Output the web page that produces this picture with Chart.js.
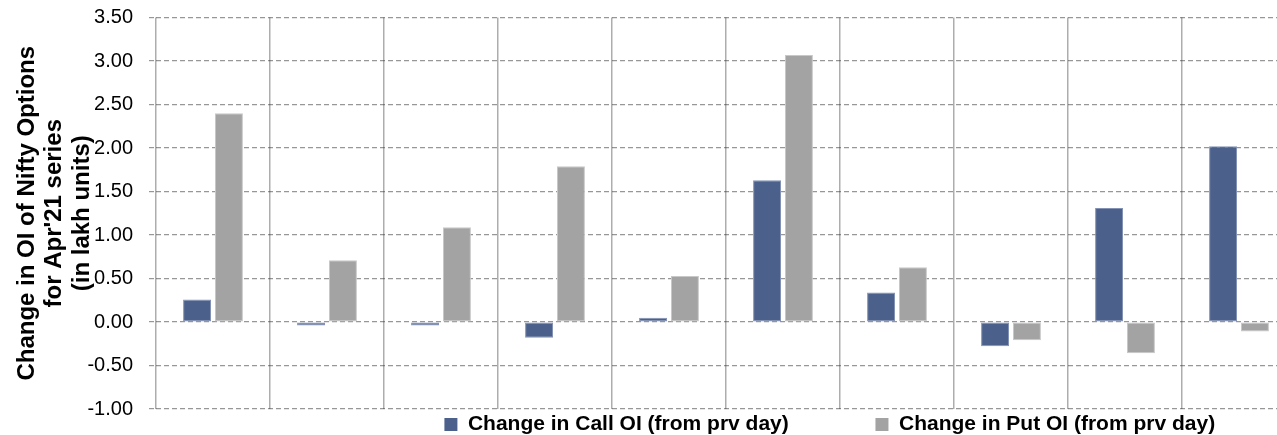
<!DOCTYPE html>
<html>
<head>
<meta charset="utf-8">
<script src="https://cdn.jsdelivr.net/npm/chart.js@4/dist/chart.umd.min.js"></script>
<style>
  html, body { margin: 0; padding: 0; background: #ffffff; overflow: hidden; }
  #wrap { position: relative; width: 1300px; height: 435px; }
</style>
</head>
<body>
<div id="wrap"><canvas id="oiChart"></canvas></div>
<script>
// Trading sessions of the Apr'21 series (axis labels are not shown)
const sessions = ['1', '2', '3', '4', '5', '6', '7', '8', '9', '10'];

// Day-on-day change in open interest, lakh units
const callOiChange = [0.26, -0.04, -0.04, -0.18, 0.05, 1.63, 0.34, -0.28, 1.31, 2.02];
const putOiChange  = [2.40, 0.71, 1.09, 1.79, 0.53, 3.07, 0.63, -0.21, -0.36, -0.11];

// Value axis ticks
const yTickValues = [-1.00, -0.50, 0.00, 0.50, 1.00, 1.50, 2.00, 2.50, 3.00, 3.50];

const seriesNames = ['Change in Call OI (from prv day)', 'Change in Put OI (from prv day)'];
const axisTitle = ['Change in OI of Nifty Options', "for Apr'21 series", '(in lakh units)'];

const FONT = "'Liberation Sans', Arial, Helvetica, sans-serif";
const legendGaps = [14, 13];
const GRID_DASH = 'rgba(55,55,55,0.52)';

new Chart(document.getElementById('oiChart'), {
  type: 'bar',
  data: {
    labels: sessions,
    datasets: [
      {
        label: seriesNames[0],
        data: callOiChange,
        backgroundColor: '#4b618b',
        borderColor: '#8392b4',
        borderWidth: 1,
        borderSkipped: false
      },
      {
        label: seriesNames[1],
        data: putOiChange,
        backgroundColor: '#a3a3a3',
        borderColor: '#c8c8c8',
        borderWidth: 1,
        borderSkipped: false
      }
    ]
  },
  options: {
    responsive: true,
    maintainAspectRatio: false,
    animation: false,
    layout: { padding: { top: 17.5, right: 4, left: 0, bottom: 0 } },
    datasets: {
      bar: { barPercentage: 0.875, categoryPercentage: 0.56 }
    },
    scales: {
      x: {
        offset: true,
        grid: {
          display: true,
          offset: true,
          color: '#adadad',
          lineWidth: 1.5,
          drawTicks: false
        },
        border: { display: false },
        ticks: { display: false }
      },
      y: {
        z: 1,
        min: yTickValues[0],
        max: yTickValues[yTickValues.length - 1],
        afterBuildTicks: (scale) => {
          scale.ticks = yTickValues.map(v => ({ value: v }));
        },
        afterFit: (scale) => { scale.width = 156; },
        grid: {
          color: GRID_DASH,
          lineWidth: 1.2,
          tickLength: 7,
          tickColor: GRID_DASH,
          tickBorderDash: [5, 3]
        },
        // in v4 the dash of the grid lines is set on the border options
        border: { display: false, dash: [5, 3] },
        ticks: {
          color: '#000000',
          padding: 16,
          // single-line labels: a tight line height keeps the plot edges free
          font: { family: FONT, size: 20, lineHeight: 0.1 },
          callback: (v) => Number(v).toFixed(2)
        },
        title: {
          display: true,
          text: axisTitle,
          color: '#000000',
          font: { family: FONT, size: 24, weight: 'bold', lineHeight: 1.16 },
          padding: { top: 13, bottom: 0 }
        }
      }
    },
    plugins: {
      title: { display: false },
      tooltip: { enabled: false },
      legend: {
        display: true,
        position: 'bottom',
        align: 'end',
        fullSize: false,
        maxHeight: 26,
        labels: {
          color: '#000000',
          font: { family: FONT, size: 21, weight: 'bold' },
          boxWidth: 13,
          boxHeight: 13,
          padding: 5,
          generateLabels: (chart) => chart.data.datasets.map((ds, i) => ({
            text: ds.label + ' '.repeat(legendGaps[i]),
            fillStyle: ds.backgroundColor,
            strokeStyle: ds.backgroundColor,
            lineWidth: 0,
            hidden: !chart.isDatasetVisible(i),
            datasetIndex: i
          }))
        }
      }
    }
  }
});
</script>
</body>
</html>
